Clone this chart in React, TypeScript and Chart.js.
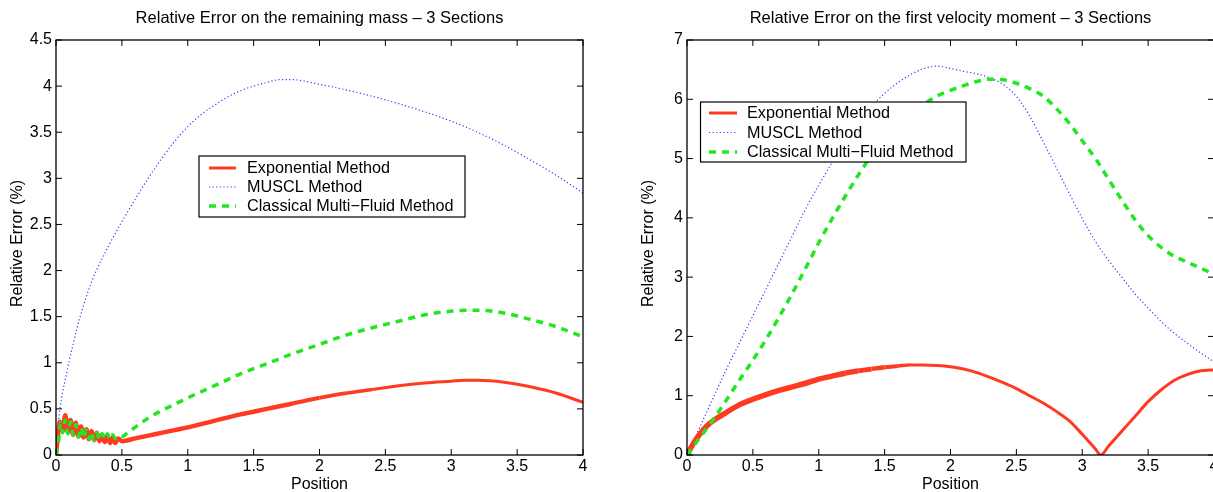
import React, { useEffect, useRef } from "react";
import { Chart, registerables } from "chart.js";

Chart.register(...registerables);

const FONT = "'Liberation Sans', Arial, Helvetica, sans-serif";
const RED = "#ff3a22";
const BLUE = "#2a3cff";
const GREEN = "#22e622";

const seriesNames = ["Exponential Method", "MUSCL Method", "Classical Multi\u2212Fluid Method"];
const xTickStep = 0.5;

// ---------- Left panel: remaining mass ----------
const massTitle = "Relative Error on the remaining mass \u2013 3 Sections";
const massYMax = 4.5;
const massYStep = 0.5;

const massExpX = [0, 0.015, 0.03, 0.05, 0.07, 0.09, 0.11, 0.13, 0.15, 0.17, 0.19, 0.21, 0.23, 0.25, 0.27, 0.29, 0.31, 0.33, 0.35, 0.37, 0.39, 0.41, 0.43, 0.45, 0.47, 0.5, 0.6, 0.7, 0.8, 0.9, 1.0, 1.2, 1.4, 1.6, 1.8, 2.0, 2.2, 2.4, 2.6, 2.8, 3.0, 3.1, 3.2, 3.4, 3.6, 3.8, 4.0];
const massExpY = [0, 0.22, 0.36, 0.26, 0.43, 0.25, 0.38, 0.22, 0.35, 0.2, 0.31, 0.19, 0.28, 0.17, 0.26, 0.16, 0.24, 0.15, 0.22, 0.14, 0.2, 0.13, 0.19, 0.13, 0.18, 0.15, 0.18, 0.21, 0.24, 0.27, 0.3, 0.37, 0.44, 0.5, 0.56, 0.62, 0.67, 0.71, 0.75, 0.78, 0.8, 0.81, 0.81, 0.79, 0.74, 0.67, 0.57];

const massMusclX = [0, 0.01, 0.03, 0.05, 0.08, 0.1, 0.13, 0.16, 0.2, 0.25, 0.3, 0.4, 0.5, 0.6, 0.7, 0.8, 0.9, 1.0, 1.1, 1.2, 1.3, 1.4, 1.5, 1.6, 1.7, 1.8, 1.9, 2.0, 2.2, 2.4, 2.6, 2.8, 3.0, 3.2, 3.4, 3.6, 3.8, 4.0];
const massMusclY = [0, 0.25, 0.5, 0.68, 0.88, 1.02, 1.2, 1.38, 1.58, 1.8, 1.98, 2.27, 2.53, 2.77, 3.0, 3.21, 3.4, 3.56, 3.69, 3.79, 3.88, 3.95, 4.0, 4.04, 4.07, 4.07, 4.05, 4.02, 3.96, 3.89, 3.81, 3.72, 3.62, 3.5, 3.36, 3.2, 3.03, 2.84];

const massClassX = [0, 0.02, 0.035, 0.05, 0.07, 0.09, 0.11, 0.13, 0.15, 0.17, 0.19, 0.21, 0.23, 0.25, 0.27, 0.29, 0.31, 0.33, 0.35, 0.37, 0.39, 0.41, 0.43, 0.45, 0.47, 0.5, 0.55, 0.6, 0.7, 0.8, 0.9, 1.0, 1.2, 1.4, 1.6, 1.8, 2.0, 2.2, 2.4, 2.6, 2.8, 3.0, 3.1, 3.2, 3.4, 3.6, 3.8, 4.0];
const massClassY = [0, 0.15, 0.35, 0.24, 0.38, 0.23, 0.36, 0.22, 0.33, 0.2, 0.3, 0.18, 0.27, 0.17, 0.25, 0.16, 0.24, 0.16, 0.23, 0.17, 0.23, 0.17, 0.22, 0.18, 0.21, 0.2, 0.25, 0.3, 0.4, 0.48, 0.55, 0.62, 0.75, 0.88, 0.99, 1.1, 1.2, 1.3, 1.38, 1.45, 1.52, 1.56, 1.57, 1.57, 1.54, 1.47, 1.39, 1.28];

// ---------- Right panel: first velocity moment ----------
const velTitle = "Relative Error on the first velocity moment \u2013 3 Sections";
const velYMax = 7;
const velYStep = 1;

const velExpX = [0, 0.05, 0.1, 0.15, 0.2, 0.3, 0.4, 0.5, 0.6, 0.7, 0.8, 0.9, 1.0, 1.1, 1.2, 1.3, 1.4, 1.5, 1.6, 1.7, 1.8, 1.9, 2.0, 2.1, 2.2, 2.3, 2.4, 2.5, 2.6, 2.7, 2.8, 2.9, 3.0, 3.1, 3.14, 3.2, 3.3, 3.4, 3.5, 3.6, 3.7, 3.8, 3.9, 4.0];
const velExpY = [0, 0.2, 0.36, 0.49, 0.58, 0.72, 0.85, 0.94, 1.02, 1.09, 1.15, 1.21, 1.28, 1.33, 1.38, 1.42, 1.45, 1.48, 1.5, 1.52, 1.52, 1.51, 1.49, 1.45, 1.39, 1.31, 1.22, 1.12, 1.0, 0.88, 0.74, 0.58, 0.35, 0.1, 0.0, 0.15, 0.4, 0.65, 0.9, 1.1, 1.26, 1.36, 1.42, 1.44];

const velMusclX = [0, 0.1, 0.2, 0.3, 0.4, 0.5, 0.6, 0.7, 0.8, 0.9, 1.0, 1.1, 1.2, 1.3, 1.4, 1.5, 1.6, 1.7, 1.8, 1.9, 2.0, 2.1, 2.2, 2.3, 2.4, 2.5, 2.6, 2.7, 2.8, 2.9, 3.0, 3.1, 3.2, 3.3, 3.4, 3.5, 3.6, 3.7, 3.8, 3.9, 4.0];
const velMusclY = [0, 0.48, 0.97, 1.45, 1.9, 2.35, 2.8, 3.25, 3.7, 4.15, 4.55, 4.93, 5.28, 5.6, 5.88, 6.1, 6.28, 6.42, 6.52, 6.56, 6.52, 6.47, 6.43, 6.36, 6.25, 6.05, 5.72, 5.3, 4.86, 4.42, 3.99, 3.6, 3.28, 3.0, 2.72, 2.48, 2.25, 2.05, 1.88, 1.72, 1.57];

const velClassX = [0, 0.1, 0.2, 0.3, 0.4, 0.5, 0.6, 0.7, 0.8, 0.9, 1.0, 1.1, 1.2, 1.3, 1.4, 1.5, 1.6, 1.7, 1.8, 1.9, 2.0, 2.1, 2.2, 2.3, 2.4, 2.5, 2.6, 2.7, 2.8, 2.9, 3.0, 3.1, 3.2, 3.3, 3.4, 3.5, 3.6, 3.7, 3.8, 3.9, 4.0];
const velClassY = [0, 0.3, 0.6, 0.93, 1.27, 1.6, 1.95, 2.33, 2.73, 3.15, 3.58, 3.98, 4.36, 4.72, 5.05, 5.32, 5.55, 5.75, 5.92, 6.06, 6.15, 6.23, 6.3, 6.34, 6.33, 6.27, 6.18, 6.06, 5.85, 5.6, 5.3, 5.0, 4.65, 4.3, 3.97, 3.7, 3.5, 3.35, 3.25, 3.15, 3.05];

type Legend = { x: number; y: number; w: number; h: number; rows: number[]; sx0: number; sx1: number; tx: number };
type Panel = {
  title: string;
  yMax: number;
  yStep: number;
  yAxisWidth: number;
  padRight: number;
  yTitleX: number;
  legend: Legend;
  exp: [number[], number[]];
  muscl: [number[], number[]];
  cls: [number[], number[]];
  fuzzyUntil: number;
  fuzzyWidth: number;
  width: number;
};

const toPts = (xs: number[], ys: number[]) => xs.map((x, i) => ({ x, y: ys[i] }));
const fmtTick = (v: any) => String(+Number(v).toFixed(2));

const panelPlugin = {
  id: "panelDecor",
  afterDraw(chart: any, _args: any, opts: any) {
    const { ctx, chartArea: a, scales } = chart;
    const p: Panel = opts.panel;
    ctx.save();
    // frame
    ctx.strokeStyle = "#000";
    ctx.lineWidth = 1.3;
    ctx.strokeRect(a.left, a.top, a.right - a.left, a.bottom - a.top);
    const tl = 6;
    ctx.beginPath();
    scales.x.ticks.forEach((t: any) => {
      const px = scales.x.getPixelForValue(t.value);
      ctx.moveTo(px, a.bottom);
      ctx.lineTo(px, a.bottom - tl);
      ctx.moveTo(px, a.top);
      ctx.lineTo(px, a.top + tl);
    });
    scales.y.ticks.forEach((t: any) => {
      const py = scales.y.getPixelForValue(t.value);
      ctx.moveTo(a.left, py);
      ctx.lineTo(a.left + tl, py);
      ctx.moveTo(a.right, py);
      ctx.lineTo(a.right - tl, py);
    });
    ctx.lineWidth = 1;
    ctx.stroke();

    // titles
    ctx.fillStyle = "#000";
    ctx.font = `16.5px ${FONT}`;
    ctx.textAlign = "center";
    ctx.textBaseline = "middle";
    ctx.fillText(p.title, (a.left + a.right) / 2, 18);
    ctx.font = `16px ${FONT}`;
    ctx.fillText("Position", (a.left + a.right) / 2, 485);
    ctx.save();
    ctx.translate(p.yTitleX, (a.top + a.bottom) / 2 - 4);
    ctx.rotate(-Math.PI / 2);
    ctx.fillText("Relative Error (%)", 0, 0);
    ctx.restore();

    // legend
    const L = p.legend;
    ctx.fillStyle = "#fff";
    ctx.fillRect(L.x, L.y, L.w, L.h);
    ctx.strokeStyle = "#000";
    ctx.lineWidth = 1.2;
    ctx.strokeRect(L.x, L.y, L.w, L.h);
    const styles = [
      { c: RED, w: 3, d: [] as number[] },
      { c: BLUE, w: 1.2, d: [1.2, 2.4] },
      { c: GREEN, w: 3.5, d: [7, 6] },
    ];
    seriesNames.forEach((name, i) => {
      const s = styles[i];
      ctx.beginPath();
      ctx.strokeStyle = s.c;
      ctx.lineWidth = s.w;
      ctx.setLineDash(s.d);
      ctx.moveTo(L.sx0, L.rows[i]);
      ctx.lineTo(L.sx1, L.rows[i]);
      ctx.stroke();
      ctx.setLineDash([]);
      ctx.fillStyle = "#000";
      ctx.textAlign = "left";
      ctx.textBaseline = "middle";
      ctx.font = `16.2px ${FONT}`;
      ctx.fillText(name, L.tx, L.rows[i] + 1);
    });
    ctx.restore();
  },
};

function PanelChart({ panel, left }: { panel: Panel; left: number }) {
  const ref = useRef<HTMLCanvasElement | null>(null);
  useEffect(() => {
    if (!ref.current) return;
    const fuzzy = (c: any) => {
      const x = c.p1.parsed.x;
      if (x <= panel.fuzzyUntil * 0.7) return panel.fuzzyWidth;
      if (x >= panel.fuzzyUntil) return 3;
      const t = (x - panel.fuzzyUntil * 0.7) / (panel.fuzzyUntil * 0.3);
      return panel.fuzzyWidth + (3 - panel.fuzzyWidth) * t;
    };
    const chart = new Chart(ref.current, {
      type: "line",
      data: {
        datasets: [
          {
            label: seriesNames[2],
            data: toPts(panel.cls[0], panel.cls[1]),
            borderColor: GREEN,
            borderWidth: 3.5,
            borderDash: [7, 6],
            pointRadius: 0,
            cubicInterpolationMode: "monotone",
          },
          {
            label: seriesNames[0],
            data: toPts(panel.exp[0], panel.exp[1]),
            borderColor: RED,
            borderWidth: 3,
            pointRadius: 0,
            cubicInterpolationMode: "monotone",
            segment: { borderWidth: fuzzy },
          },
          {
            label: seriesNames[1],
            data: toPts(panel.muscl[0], panel.muscl[1]),
            borderColor: BLUE,
            borderWidth: 1.2,
            borderDash: [1.2, 2.4],
            pointRadius: 0,
            cubicInterpolationMode: "monotone",
          },
        ] as any,
      },
      options: {
        responsive: false,
        animation: false,
        devicePixelRatio: 1,
        layout: { padding: { top: 40, right: panel.padRight, left: 0, bottom: 0 } },
        plugins: {
          legend: { display: false },
          tooltip: { enabled: false },
          title: { display: false },
          panelDecor: { panel },
        } as any,
        scales: {
          x: {
            type: "linear",
            min: 0,
            max: 4,
            ticks: {
              stepSize: xTickStep,
              color: "#000",
              font: { family: FONT, size: 16 },
              padding: 2,
              maxRotation: 0,
              callback: fmtTick,
            },
            grid: { display: false, drawTicks: false },
            border: { display: false },
            afterFit: (s: any) => {
              s.height = 37;
            },
          },
          y: {
            type: "linear",
            min: 0,
            max: panel.yMax,
            ticks: {
              stepSize: panel.yStep,
              color: "#000",
              font: { family: FONT, size: 16 },
              padding: 4,
              callback: fmtTick,
            },
            grid: { display: false, drawTicks: false },
            border: { display: false },
            afterFit: (s: any) => {
              s.width = panel.yAxisWidth;
            },
          },
        },
      },
      plugins: [panelPlugin],
    });
    return () => chart.destroy();
  }, [panel]);
  return (
    <canvas
      ref={ref}
      width={panel.width}
      height={492}
      style={{ position: "absolute", left, top: 0, width: panel.width, height: 492, display: "block" }}
    />
  );
}

const leftPanel: Panel = {
  title: massTitle,
  yMax: massYMax,
  yStep: massYStep,
  yAxisWidth: 56,
  padRight: 17,
  yTitleX: 18,
  legend: { x: 199, y: 156, w: 266, h: 61, rows: [168, 187, 206], sx0: 209, sx1: 236, tx: 247 },
  exp: [massExpX, massExpY],
  muscl: [massMusclX, massMusclY],
  cls: [massClassX, massClassY],
  fuzzyUntil: 2.6,
  fuzzyWidth: 4.5,
  width: 600,
};

const rightPanel: Panel = {
  title: velTitle,
  yMax: velYMax,
  yStep: velYStep,
  yAxisWidth: 87,
  padRight: 16,
  yTitleX: 49,
  legend: { x: 100.5, y: 102, w: 265.5, h: 60, rows: [113, 132.5, 152], sx0: 109, sx1: 137, tx: 147 },
  exp: [velExpX, velExpY],
  muscl: [velMusclX, velMusclY],
  cls: [velClassX, velClassY],
  fuzzyUntil: 1.8,
  fuzzyWidth: 5.5,
  width: 630,
};

export default function App() {
  return (
    <div
      style={{
        position: "fixed",
        left: 0,
        top: 0,
        width: 1213,
        height: 492,
        overflow: "hidden",
        background: "#fff",
      }}
    >
      <PanelChart panel={leftPanel} left={0} />
      <PanelChart panel={rightPanel} left={600} />
    </div>
  );
}
